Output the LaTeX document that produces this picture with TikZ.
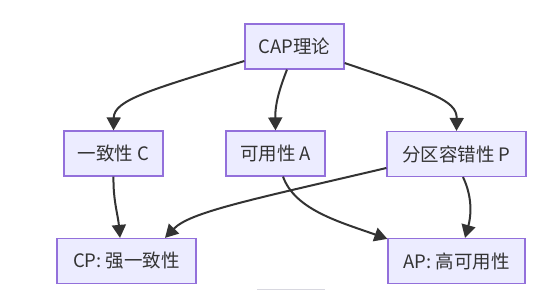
\documentclass[tikz,border=0pt]{standalone}
\usepackage{fontspec}
\setmainfont{Noto Sans CJK SC}
\usetikzlibrary{arrows.meta}
\definecolor{nodefill}{HTML}{ECECFF}
\definecolor{nodeline}{HTML}{9370DB}
\definecolor{edgeline}{HTML}{333333}
\definecolor{txt}{HTML}{333333}
\begin{document}
\begin{tikzpicture}[x=1pt,y=-1pt,
  box/.style={draw=nodeline, fill=nodefill, line width=1.2pt, minimum height=45pt, inner sep=0pt,
    text=txt, font=\fontsize{18.5}{22}\selectfont},
  edge/.style={draw=edgeline, line width=2pt, -{Triangle[length=13pt,width=14pt]}}]
\useasboundingbox (0,0) rectangle (560,291);
\fill[white] (0,0) rectangle (560,291);
\node[box, minimum width=99pt] (cap) at (294.5,46.5) {CAP理论};
\node[box, minimum width=99pt] (c) at (113.5,153.5) {一致性 C};
\node[box, minimum width=99pt] (a) at (275.5,153.5) {可用性 A};
\node[box, minimum width=139pt] (p) at (456.5,154) {分区容错性 P};
\node[box, minimum width=139pt] (cp) at (126.5,261) {CP: 强一致性};
\node[box, minimum width=137pt] (ap) at (456.5,261) {AP: 高可用性};
\draw[edge] ([yshift=-14.5pt]cap.west) .. controls (150,90) and (114,100) .. (c.north);
\draw[edge] ([xshift=-7.5pt]cap.south) .. controls (279,90) and (275,105) .. (a.north);
\draw[edge] ([yshift=-16.5pt]cap.east) .. controls (430,92) and (457,100) .. (p.north);
\draw[edge] (c.south) .. controls (113,200) and (118,215) .. ([xshift=-6.5pt]cp.north);
\draw[edge] ([yshift=-14pt]p.west) .. controls (250,200) and (190,212) .. ([xshift=38.5pt]cp.north);
\draw[edge] ([xshift=7.5pt]a.south) .. controls (295,210) and (340,222) .. ([yshift=-1pt]ap.north west);
\draw[edge] ([xshift=6.5pt]p.south) .. controls (474,200) and (470,220) .. ([xshift=8.5pt]ap.north);
\draw[draw={rgb,255:red,216;green,216;blue,224}, line width=1.5pt] (257,289.5) -- (325,289.5);
\end{tikzpicture}
\end{document}
